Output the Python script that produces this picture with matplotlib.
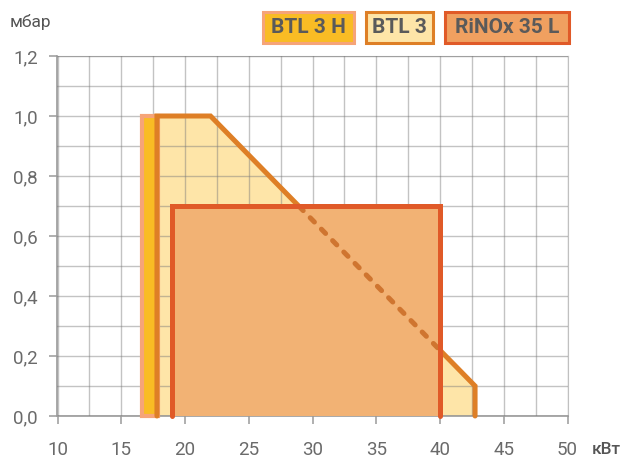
import matplotlib
matplotlib.use("Agg")
import matplotlib.pyplot as plt
from matplotlib.patches import Polygon, Rectangle, PathPatch
from matplotlib.path import Path
from matplotlib.ticker import MultipleLocator, FuncFormatter

# --- data ---
btl3h_x = [16.6, 16.6, 17.9, 17.9]
btl3h_y = [0.0, 1.0, 1.0, 0.0]
btl3_x = [17.8, 17.8, 22.0, 42.75, 42.75]
btl3_y = [0.0, 1.0, 1.0, 0.1, 0.0]
rinox_x = [19.0, 19.0, 40.0, 40.0]
rinox_y = [0.0, 0.7, 0.7, 0.0]
legend_labels = ["BTL 3 H", "BTL 3", "RiNOx 35 L"]

C_H_FILL, C_H_EDGE = "#F9BC24", "#F6A478"
C_B_FILL, C_B_EDGE = "#FEE5A8", "#DE7F26"
C_R_FILL, C_R_EDGE = "#F2B274", "#E05A28"
C_R_LEG = "#F0A060"
C_DASH = "#CF7530"
TXT = "#5a5a5a"

plt.rcParams['font.family'] = ['Roboto', 'DejaVu Sans']

fig = plt.figure(figsize=(6.23, 4.59), dpi=100)
ax = fig.add_axes([57.5/623, 43/459, 510/623, 360/459])
ax.set_xlim(10, 50)
ax.set_ylim(0, 1.2)

ax.xaxis.set_major_locator(MultipleLocator(5))
ax.xaxis.set_minor_locator(MultipleLocator(2.5))
ax.yaxis.set_major_locator(MultipleLocator(0.2))
ax.yaxis.set_minor_locator(MultipleLocator(0.1))
ax.grid(True, which='both', color="#7a7a7a", alpha=0.45, linewidth=1.0, zorder=4)
ax.set_axisbelow(False)
for s in ['top', 'right']:
    ax.spines[s].set_color("#c0c0c0")
for s in ['left', 'bottom']:
    ax.spines[s].set_color("#9a9a9a")
    ax.spines[s].set_linewidth(1.2)
ax.tick_params(which='major', length=6, width=1.1, color="#9a9a9a",
               labelsize=13.5, labelcolor="#6a6a6a")
ax.tick_params(axis='x', which='major', pad=12)
ax.tick_params(axis='y', which='major', pad=8)
ax.tick_params(which='minor', length=0)
ax.yaxis.set_major_formatter(FuncFormatter(lambda v, p: f"{v:.1f}".replace('.', ',')))

# BTL 3 H (above the grid)
ax.add_patch(Polygon(list(zip(btl3h_x, btl3h_y)), closed=True, facecolor=C_H_FILL,
                     edgecolor=C_H_EDGE, linewidth=3, zorder=4.5, clip_on=False))
# BTL 3 fill
ax.add_patch(Polygon(list(zip(btl3_x, btl3_y)), closed=False, facecolor=C_B_FILL,
                     edgecolor='none', zorder=2.5))
# RiNOx fill
rfill = Polygon(list(zip(rinox_x, rinox_y)), closed=True, facecolor=C_R_FILL,
                edgecolor='none', zorder=3)
ax.add_patch(rfill)

# clip region = everything except the RiNOx rectangle
rx0, rx1 = min(rinox_x), max(rinox_x)
ry0, ry1 = min(rinox_y), max(rinox_y)
outer = [(0, -1), (60, -1), (60, 2), (0, 2), (0, -1)]
inner = [(rx0, ry0), (rx0, ry1), (rx1, ry1), (rx1, ry0), (rx0, ry0)]
verts = outer + inner
codes = ([Path.MOVETO] + [Path.LINETO] * 3 + [Path.CLOSEPOLY]) * 2
outside = PathPatch(Path(verts, codes), transform=ax.transData, facecolor='none', edgecolor='none')

btl_solid, = ax.plot(btl3_x, btl3_y, color=C_B_EDGE, linewidth=3.6, solid_capstyle='round',
                     solid_joinstyle='miter', zorder=5)
btl_solid.set_clip_path(outside)
btl_solid.set_clip_box(None)

dashed, = ax.plot(btl3_x, btl3_y, color=C_DASH, linewidth=3.6, linestyle=(0, (1.2, 2.0)),
                  dash_capstyle='round', zorder=6)
dashed.set_clip_path(rfill)
ax.plot(rinox_x, rinox_y, color=C_R_EDGE, linewidth=3.6, solid_capstyle='round',
        solid_joinstyle='miter', zorder=7, clip_on=False)

fig.text(10/623, 1 - 22/459, "мбар", fontsize=12.5, color="#555555", va='center', ha='left')
fig.text(592/623, 1 - 449/459, "кВт", fontsize=12.5, color="#555555", va='center', ha='left',
         fontweight='medium')

boxes = [(263, 354, C_H_FILL, C_H_EDGE), (366, 433, C_B_FILL, C_B_EDGE), (445, 569, C_R_LEG, C_R_EDGE)]
for (x0, x1, fc, ec), lab in zip(boxes, legend_labels):
    y0, y1 = 12, 43
    fig.patches.append(Rectangle((x0/623, 1 - y1/459), (x1 - x0)/623, (y1 - y0)/459,
                                 transform=fig.transFigure, facecolor=fc, edgecolor=ec,
                                 linewidth=2.2, zorder=10))
    fig.text((x0 + x1)/2/623, 1 - (y0 + y1)/2/459, lab, fontsize=15, fontweight='bold',
             color=TXT, ha='center', va='center', zorder=11)

fig.savefig("out.png", dpi=100)
